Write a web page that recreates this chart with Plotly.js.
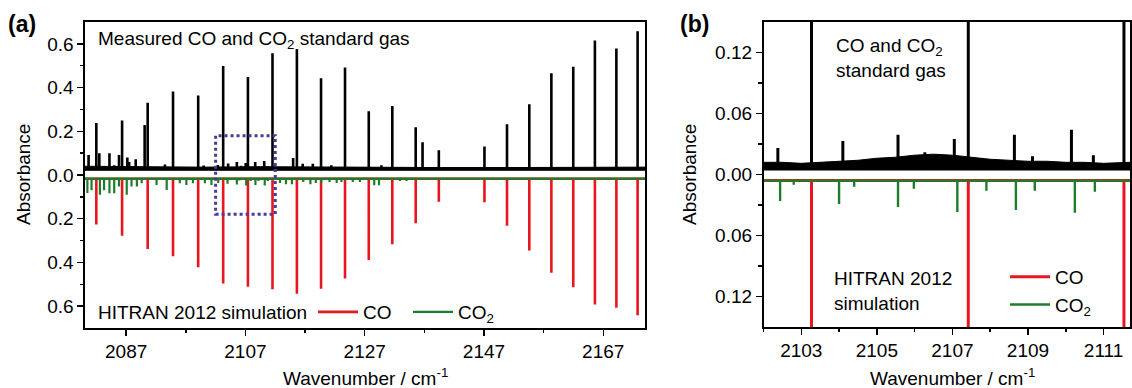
<!DOCTYPE html>
<html><head><meta charset="utf-8">
<script src="https://cdn.plot.ly/plotly-3.0.1.min.js"></script>
<style>html,body{margin:0;padding:0;background:#fff}#chart{width:1132px;height:388px}</style>
</head><body><div id="chart"></div>
<script>
// ---- DATA ----
// CO fundamental lines (cm-1)
const coPos = [2082.00, 2086.32, 2090.61, 2094.86, 2099.08, 2103.27, 2107.42, 2111.54, 2115.63, 2119.68, 2123.70, 2127.68, 2131.63, 2135.55, 2139.43, 2147.08, 2150.86, 2154.60, 2158.30, 2161.97, 2165.60, 2169.20, 2172.76];
// measured CO peak absorbance above the measured baseline
const coMeasured = [0.210, 0.221, 0.302, 0.354, 0.336, 0.471, 0.420, 0.529, 0.548, 0.415, 0.464, 0.264, 0.288, 0.191, 0.085, 0.102, 0.204, 0.296, 0.438, 0.467, 0.587, 0.551, 0.630];
// HITRAN 2012 simulated CO absorbance (drawn downward)
const coSim = [0.209, 0.261, 0.322, 0.355, 0.405, 0.479, 0.494, 0.506, 0.526, 0.503, 0.456, 0.372, 0.300, 0.204, 0.105, 0.108, 0.215, 0.328, 0.430, 0.497, 0.575, 0.590, 0.625];
// other measured absorption features (CO2 and weak lines)
const otherPos = [2080.7, 2082.5, 2084.2, 2085.0, 2085.8, 2087.2, 2087.5, 2088.6, 2090.1, 2093.5, 2100.0, 2102.38, 2104.10, 2105.56, 2106.27, 2107.05, 2108.64, 2109.12, 2110.15, 2110.73, 2115.0, 2116.6, 2118.3, 2121.4, 2129.8, 2136.7];
const otherMeasured = [0.063, 0.071, 0.071, 0.017, 0.063, 0.052, 0.032, 0.044, 0.201, 0.020, 0.015, 0.018, 0.025, 0.031, 0.014, 0.027, 0.031, 0.010, 0.036, 0.011, 0.050, 0.024, 0.024, 0.017, 0.017, 0.122];
// HITRAN 2012 simulated CO2 lines
const co2Pos = [2080.5, 2081.2, 2082.6, 2083.3, 2084.2, 2085.0, 2085.8, 2087.1, 2087.9, 2088.8, 2089.6, 2092.1, 2093.8, 2096.0, 2097.1, 2098.2, 2100.2, 2101.3, 2102.44, 2102.80, 2104.00, 2104.40, 2105.56, 2105.98, 2107.13, 2107.90, 2108.68, 2109.18, 2110.24, 2110.77, 2112.8, 2113.8, 2114.8, 2116.7, 2117.9, 2118.8, 2119.7, 2121.1, 2122.3, 2123.1, 2125.0, 2126.2, 2128.6, 2129.4, 2132.9, 2134.0];
const co2Sim = [0.065, 0.053, 0.073, 0.053, 0.067, 0.066, 0.036, 0.073, 0.036, 0.036, 0.021, 0.029, 0.052, 0.021, 0.029, 0.021, 0.021, 0.029, 0.020, 0.004, 0.023, 0.006, 0.026, 0.008, 0.031, 0.010, 0.029, 0.010, 0.0315, 0.011, 0.020, 0.025, 0.025, 0.015, 0.025, 0.020, 0.020, 0.015, 0.020, 0.015, 0.015, 0.015, 0.030, 0.030, 0.010, 0.010];
// measured noise band (lower / upper envelope)
const bandAx  = [2080, 2090, 2100, 2110, 2120, 2130, 2140, 2150, 2160, 2174];
const bandAlo = [0.020, 0.020, 0.020, 0.020, 0.020, 0.020, 0.020, 0.020, 0.020, 0.020];
const bandAhi = [0.040, 0.038, 0.036, 0.038, 0.036, 0.035, 0.034, 0.034, 0.035, 0.036];
const bandBx  = [2102.0, 2102.5, 2103.0, 2103.5, 2104.0, 2104.5, 2105.0, 2105.5, 2106.0, 2106.5, 2107.0, 2107.5, 2108.0, 2108.5, 2109.0, 2109.5, 2110.0, 2110.5, 2111.0, 2111.7];
const bandBlo = [0.004, 0.004, 0.004, 0.004, 0.004, 0.004, 0.004, 0.004, 0.004, 0.004, 0.004, 0.004, 0.004, 0.004, 0.004, 0.004, 0.004, 0.004, 0.004, 0.004];
const bandBhi = [0.012, 0.012, 0.011, 0.012, 0.013, 0.014, 0.016, 0.017, 0.019, 0.020, 0.019, 0.017, 0.015, 0.014, 0.013, 0.013, 0.012, 0.012, 0.011, 0.012];
// ticks
const xTicksA = [2087, 2107, 2127, 2147, 2167];
const xMinorA = [2097, 2117, 2137, 2157];
const yTicksA = [-0.6, -0.4, -0.2, 0, 0.2, 0.4, 0.6];
const yTickTextA = ['0.6', '0.4', '0.2', '0.0', '0.2', '0.4', '0.6'];
const yMinorA = [-0.5, -0.3, -0.1, 0.1, 0.3, 0.5];
const xTicksB = [2103, 2105, 2107, 2109, 2111];
const xMinorB = [2102, 2104, 2106, 2108, 2110];
const yTicksB = [-0.12, -0.06, 0, 0.06, 0.12];
const yTickTextB = ['0.12', '0.06', '0.00', '0.06', '0.12'];
const yMinorB = [-0.09, -0.03, 0.03, 0.09];

// ---- LAYOUT CONSTANTS ----
const W = 1132, H = 388;
const px = v => v / W, py = v => 1 - v / H;
const FONT = 'Liberation Sans, Arial, Helvetica, sans-serif';
const FS = 19;
const RED = '#e8171f', GREEN = '#1e7d2b', BLACK = '#000000', BOX = '#4a3a99';
const rangeA = [2080.1, 2174.0], rangeB = [2102.0, 2111.7];
const A_MEAS = 0.028, A_SIM = -0.017, B_MEAS = 0.008, B_SIM = -0.006;

function spectrum(pos, val, base, sign, r) {
  const idx = pos.map((p, i) => i).filter(i => pos[i] >= r[0] && pos[i] <= r[1]).sort((a, b) => pos[a] - pos[b]);
  const x = [r[0]], y = [base];
  idx.forEach(i => { x.push(pos[i], pos[i], pos[i]); y.push(base, base + sign * val[i], base); });
  x.push(r[1]); y.push(base);
  return { x, y };
}
const measPos = coPos.concat(otherPos), measVal = coMeasured.concat(otherMeasured);

function panelTraces(xa, ya, r, mBase, sBase, legendId, w) {
  const m = spectrum(measPos, measVal, mBase, 1, r);
  const c = spectrum(coPos, coSim, sBase, -1, r);
  const g = spectrum(co2Pos, co2Sim, sBase, -1, r);
  const band = xa === 'x' ? [bandAx, bandAlo, bandAhi] : [bandBx, bandBlo, bandBhi];
  return [
    { x: band[0], y: band[1], xaxis: xa, yaxis: ya, mode: 'lines', line: { width: 0, color: BLACK }, showlegend: false, hoverinfo: 'skip' },
    { x: band[0], y: band[2], xaxis: xa, yaxis: ya, mode: 'lines', fill: 'tonexty', fillcolor: BLACK, line: { width: 1, color: BLACK }, showlegend: false, hoverinfo: 'skip' },
    { x: m.x, y: m.y, xaxis: xa, yaxis: ya, mode: 'lines', line: { width: w.m, color: BLACK, simplify: false }, showlegend: false, name: 'Measured' },
    { x: c.x, y: c.y, xaxis: xa, yaxis: ya, mode: 'lines', line: { width: w.c, color: RED, simplify: false }, name: 'CO', legend: legendId },
    { x: g.x, y: g.y, xaxis: xa, yaxis: ya, mode: 'lines', line: { width: w.g, color: GREEN, simplify: false }, name: 'CO<sub>2</sub>', legend: legendId }
  ];
}

const data = panelTraces('x', 'y', rangeA, A_MEAS, A_SIM, 'legend', { m: 2.6, c: 2.6, g: 2.2 })
  .concat(panelTraces('x2', 'y2', rangeB, B_MEAS, B_SIM, 'legend2', { m: 3, c: 3, g: 2.4 }));

const axisCommon = {
  showline: true, mirror: true, linecolor: BLACK, linewidth: 1.6,
  ticks: 'outside', ticklen: 6, tickwidth: 1.5, tickcolor: BLACK,
  showgrid: false, zeroline: false, fixedrange: true,
  tickfont: { family: FONT, size: FS, color: BLACK }
};
const minorCommon = { ticks: 'outside', ticklen: 3.5, tickwidth: 1.5, tickcolor: BLACK, showgrid: false };

const layout = {
  width: W, height: H, margin: { l: 0, r: 0, t: 0, b: 0 },
  paper_bgcolor: '#fff', plot_bgcolor: '#fff',
  font: { family: FONT, size: FS, color: BLACK },
  xaxis: Object.assign({}, axisCommon, { domain: [px(85), px(645)], range: rangeA, anchor: 'y', tickmode: 'array', tickvals: xTicksA, minor: Object.assign({ tickmode: 'array', tickvals: xMinorA }, minorCommon) }),
  yaxis: Object.assign({}, axisCommon, { domain: [py(328), py(22)], range: [-0.7, 0.7], anchor: 'x', tickmode: 'array', tickvals: yTicksA, ticktext: yTickTextA, minor: Object.assign({ tickmode: 'array', tickvals: yMinorA }, minorCommon) }),
  xaxis2: Object.assign({}, axisCommon, { domain: [px(763.5), px(1130)], range: rangeB, anchor: 'y2', tickmode: 'array', tickvals: xTicksB, minor: Object.assign({ tickmode: 'array', tickvals: xMinorB }, minorCommon) }),
  yaxis2: Object.assign({}, axisCommon, { domain: [py(327), py(22)], range: [-0.15, 0.15], anchor: 'x2', tickmode: 'array', tickvals: yTicksB, ticktext: yTickTextB, minor: Object.assign({ tickmode: 'array', tickvals: yMinorB }, minorCommon) }),
  legend: { orientation: 'h', traceorder: 'normal', x: px(313), y: py(312), xanchor: 'left', yanchor: 'middle', bgcolor: 'rgba(0,0,0,0)', borderwidth: 0, font: { family: FONT, size: FS, color: BLACK }, itemwidth: 40, entrywidth: 40, entrywidthmode: 'pixels' },
  legend2: { orientation: 'v', traceorder: 'normal', x: px(1005), y: py(291), xanchor: 'left', yanchor: 'middle', bgcolor: 'rgba(0,0,0,0)', borderwidth: 0, font: { family: FONT, size: FS, color: BLACK }, itemwidth: 40, tracegroupgap: 0 },
  shapes: [
    { type: 'rect', xref: 'x', yref: 'y', x0: rangeB[0], x1: 2112, y0: -0.18, y1: 0.18, line: { color: BOX, width: 3, dash: 'dot' }, fillcolor: 'rgba(0,0,0,0)' }
  ],
  annotations: [
    { text: '<b>(a)</b>', xref: 'paper', yref: 'paper', x: px(6), y: py(24), xanchor: 'left', yanchor: 'middle', showarrow: false, font: { family: FONT, size: 23 } },
    { text: '<b>(b)</b>', xref: 'paper', yref: 'paper', x: px(678), y: py(24), xanchor: 'left', yanchor: 'middle', showarrow: false, font: { family: FONT, size: 23 } },
    { text: 'Measured CO and CO<sub>2</sub> standard gas', xref: 'paper', yref: 'paper', x: px(96), y: py(40), xanchor: 'left', yanchor: 'middle', showarrow: false, font: { family: FONT, size: FS } },
    { text: 'HITRAN 2012 simulation', xref: 'paper', yref: 'paper', x: px(96), y: py(312), xanchor: 'left', yanchor: 'middle', showarrow: false, font: { family: FONT, size: FS } },
    { text: 'CO and CO<sub>2</sub><br>standard gas', xref: 'paper', yref: 'paper', x: px(834), y: py(58), xanchor: 'left', yanchor: 'middle', align: 'left', showarrow: false, font: { family: FONT, size: FS } },
    { text: 'HITRAN 2012<br>simulation', xref: 'paper', yref: 'paper', x: px(832), y: py(291), xanchor: 'left', yanchor: 'middle', align: 'left', showarrow: false, font: { family: FONT, size: FS } },
    { text: 'Absorbance', xref: 'paper', yref: 'paper', x: px(24), y: py(175), xanchor: 'center', yanchor: 'middle', textangle: -90, showarrow: false, font: { family: FONT, size: FS } },
    { text: 'Absorbance', xref: 'paper', yref: 'paper', x: px(690), y: py(175), xanchor: 'center', yanchor: 'middle', textangle: -90, showarrow: false, font: { family: FONT, size: FS } },
    { text: 'Wavenumber / cm<sup>-1</sup>', xref: 'paper', yref: 'paper', x: px(365), y: py(377), xanchor: 'center', yanchor: 'middle', showarrow: false, font: { family: FONT, size: FS } },
    { text: 'Wavenumber / cm<sup>-1</sup>', xref: 'paper', yref: 'paper', x: px(952), y: py(377), xanchor: 'center', yanchor: 'middle', showarrow: false, font: { family: FONT, size: FS } }
  ]
};

Plotly.newPlot('chart', data, layout, { displayModeBar: false, staticPlot: true });
</script>
</body></html>
